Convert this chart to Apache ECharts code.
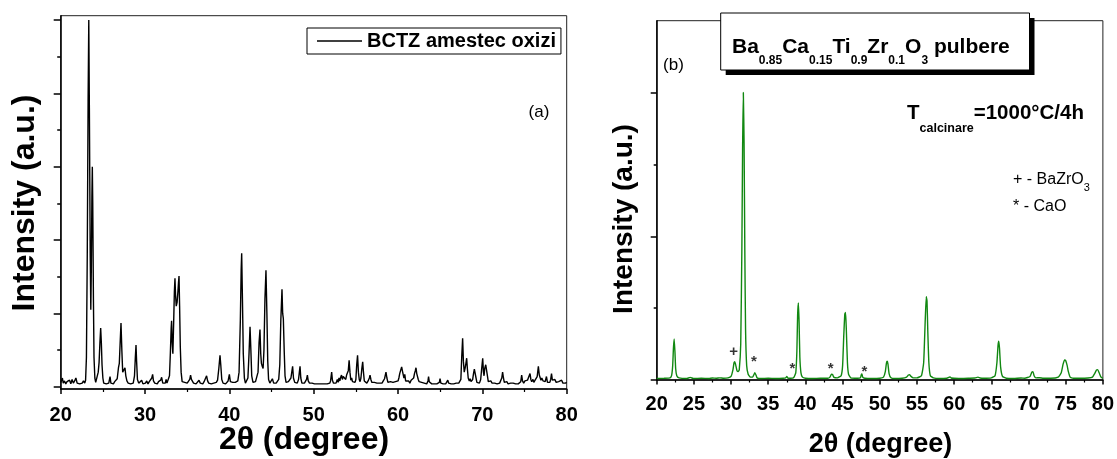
<!DOCTYPE html>
<html>
<head>
<meta charset="utf-8">
<script src="https://cdn.jsdelivr.net/npm/echarts@6/dist/echarts.min.js"></script>
<style>html,body{margin:0;padding:0;background:#fff}#c{width:1117px;height:459px}</style>
</head>
<body>
<div id="c"></div>
<script>
// ---- Data ----
// Panel (a): BCTZ oxide mixture, [2theta (deg), intensity (a.u.)]
const patternA = [[20.0,0.06],[20.1,0.04],[20.2,0.12],[20.3,0.05],[20.45,0.08],[20.6,0.04],[20.75,0.07],[20.9,0.05],[21.05,0.09],[21.2,0.04],[21.35,0.1],[21.5,0.05],[21.65,0.08],[21.8,0.12],[21.95,0.05],[22.1,0.07],[22.25,0.04],[22.4,0.06],[22.55,0.05],[22.7,0.08],[22.85,0.05],[22.95,0.09],[23.05,0.4],[23.15,1.8],[23.25,3.9],[23.33,5.0],[23.4,3.8],[23.5,1.8],[23.57,1.05],[23.63,1.6],[23.7,2.6],[23.75,3.0],[23.8,2.5],[23.88,1.2],[23.95,0.4],[24.05,0.12],[24.15,0.06],[24.3,0.08],[24.45,0.2],[24.55,0.33],[24.65,0.6],[24.74,0.8],[24.82,0.6],[24.9,0.3],[25.0,0.12],[25.1,0.05],[25.25,0.07],[25.4,0.04],[25.55,0.06],[25.7,0.05],[25.85,0.14],[25.95,0.05],[26.1,0.06],[26.25,0.04],[26.4,0.07],[26.55,0.05],[26.7,0.11],[26.85,0.26],[26.95,0.32],[27.05,0.6],[27.15,0.87],[27.25,0.5],[27.35,0.2],[27.5,0.18],[27.62,0.26],[27.72,0.15],[27.85,0.08],[28.0,0.05],[28.15,0.07],[28.3,0.04],[28.45,0.06],[28.6,0.05],[28.75,0.15],[28.85,0.4],[28.93,0.57],[29.0,0.35],[29.1,0.1],[29.25,0.05],[29.4,0.06],[29.6,0.09],[29.75,0.04],[29.9,0.06],[30.05,0.05],[30.2,0.08],[30.35,0.04],[30.5,0.07],[30.65,0.05],[30.8,0.12],[30.9,0.17],[31.0,0.08],[31.15,0.05],[31.3,0.06],[31.45,0.04],[31.6,0.07],[31.75,0.05],[31.85,0.09],[31.97,0.13],[32.1,0.05],[32.25,0.07],[32.4,0.05],[32.5,0.1],[32.6,0.05],[32.75,0.06],[32.9,0.15],[33.0,0.45],[33.1,0.8],[33.15,0.9],[33.22,0.6],[33.3,0.45],[33.4,0.9],[33.48,1.3],[33.55,1.48],[33.62,1.25],[33.7,1.1],[33.8,1.15],[33.9,1.3],[33.97,1.42],[34.03,1.51],[34.1,1.1],[34.18,0.55],[34.28,0.2],[34.4,0.07],[34.55,0.05],[34.7,0.06],[34.85,0.04],[35.0,0.05],[35.15,0.06],[35.3,0.1],[35.4,0.16],[35.5,0.1],[35.65,0.12],[35.75,0.05],[35.9,0.06],[36.05,0.04],[36.2,0.06],[36.4,0.09],[36.55,0.05],[36.7,0.06],[36.85,0.04],[37.0,0.07],[37.15,0.08],[37.3,0.15],[37.42,0.08],[37.55,0.05],[37.7,0.07],[37.85,0.04],[38.0,0.06],[38.15,0.05],[38.3,0.07],[38.45,0.06],[38.6,0.09],[38.75,0.25],[38.89,0.43],[38.98,0.3],[39.1,0.1],[39.25,0.05],[39.4,0.06],[39.55,0.04],[39.7,0.06],[39.85,0.08],[40.0,0.17],[40.12,0.07],[40.25,0.05],[40.4,0.06],[40.55,0.04],[40.7,0.06],[40.85,0.05],[41.0,0.08],[41.15,0.2],[41.3,0.9],[41.4,1.6],[41.46,1.82],[41.55,1.2],[41.65,0.45],[41.78,0.12],[41.9,0.05],[42.05,0.07],[42.2,0.12],[42.33,0.45],[42.45,0.82],[42.55,0.5],[42.65,0.15],[42.8,0.06],[42.95,0.05],[43.1,0.07],[43.25,0.06],[43.4,0.2],[43.52,0.6],[43.63,0.78],[43.72,0.45],[43.8,0.32],[43.9,0.28],[44.0,0.25],[44.1,0.5],[44.22,1.2],[44.34,1.59],[44.45,1.0],[44.55,0.35],[44.65,0.1],[44.8,0.05],[44.95,0.06],[45.1,0.11],[45.25,0.05],[45.4,0.07],[45.55,0.05],[45.7,0.06],[45.85,0.1],[45.98,0.3],[46.1,0.9],[46.24,1.33],[46.32,1.0],[46.4,0.93],[46.5,0.5],[46.6,0.15],[46.72,0.06],[46.85,0.05],[47.0,0.07],[47.15,0.06],[47.3,0.12],[47.4,0.2],[47.5,0.28],[47.6,0.12],[47.75,0.06],[47.9,0.08],[48.05,0.05],[48.2,0.1],[48.3,0.2],[48.38,0.28],[48.47,0.12],[48.6,0.05],[48.75,0.07],[48.9,0.05],[49.05,0.06],[49.15,0.1],[49.25,0.16],[49.35,0.08],[49.5,0.05],[49.65,0.04],[49.8,0.05],[49.95,0.03],[50.1,0.04],[50.25,0.03],[50.4,0.04],[50.55,0.03],[50.7,0.04],[50.85,0.05],[51.0,0.04],[51.15,0.06],[51.3,0.04],[51.45,0.05],[51.6,0.04],[51.75,0.06],[51.9,0.05],[52.0,0.08],[52.13,0.2],[52.22,0.09],[52.35,0.05],[52.5,0.07],[52.65,0.05],[52.8,0.1],[52.9,0.06],[53.0,0.12],[53.1,0.08],[53.2,0.13],[53.3,0.16],[53.4,0.1],[53.5,0.14],[53.6,0.12],[53.7,0.15],[53.8,0.1],[53.9,0.16],[54.0,0.18],[54.1,0.22],[54.2,0.36],[54.3,0.2],[54.4,0.09],[54.5,0.12],[54.6,0.07],[54.75,0.09],[54.9,0.06],[55.0,0.1],[55.1,0.3],[55.2,0.43],[55.3,0.2],[55.4,0.1],[55.5,0.07],[55.6,0.12],[55.7,0.24],[55.81,0.34],[55.9,0.2],[56.0,0.08],[56.15,0.06],[56.3,0.05],[56.45,0.08],[56.6,0.12],[56.68,0.16],[56.78,0.1],[56.9,0.06],[57.05,0.05],[57.2,0.06],[57.35,0.04],[57.5,0.05],[57.65,0.07],[57.8,0.05],[57.95,0.06],[58.1,0.05],[58.25,0.08],[58.4,0.11],[58.57,0.2],[58.68,0.12],[58.8,0.06],[58.95,0.05],[59.1,0.07],[59.25,0.05],[59.4,0.06],[59.55,0.05],[59.7,0.07],[59.85,0.05],[60.0,0.08],[60.1,0.12],[60.2,0.18],[60.3,0.22],[60.43,0.27],[60.55,0.2],[60.62,0.22],[60.7,0.12],[60.8,0.17],[60.9,0.08],[61.0,0.1],[61.1,0.06],[61.25,0.08],[61.4,0.05],[61.55,0.09],[61.7,0.07],[61.85,0.12],[61.95,0.18],[62.05,0.22],[62.13,0.26],[62.22,0.18],[62.3,0.2],[62.4,0.1],[62.5,0.07],[62.65,0.05],[62.8,0.06],[62.95,0.04],[63.1,0.05],[63.25,0.06],[63.4,0.04],[63.55,0.08],[63.62,0.14],[63.7,0.07],[63.85,0.05],[64.0,0.04],[64.15,0.05],[64.3,0.04],[64.45,0.05],[64.6,0.04],[64.75,0.05],[64.9,0.06],[64.98,0.11],[65.08,0.05],[65.2,0.06],[65.35,0.04],[65.5,0.05],[65.65,0.04],[65.8,0.06],[65.9,0.09],[66.0,0.05],[66.15,0.06],[66.3,0.04],[66.45,0.05],[66.6,0.04],[66.75,0.06],[66.9,0.05],[67.05,0.06],[67.2,0.05],[67.35,0.07],[67.45,0.1],[67.55,0.4],[67.66,0.66],[67.75,0.35],[67.85,0.2],[67.95,0.25],[68.05,0.32],[68.14,0.39],[68.22,0.25],[68.32,0.12],[68.45,0.08],[68.55,0.11],[68.65,0.07],[68.75,0.06],[68.85,0.1],[68.95,0.18],[69.05,0.24],[69.15,0.25],[69.25,0.12],[69.35,0.06],[69.5,0.08],[69.65,0.05],[69.8,0.1],[69.92,0.25],[70.04,0.39],[70.13,0.2],[70.2,0.15],[70.28,0.25],[70.4,0.3],[70.5,0.3],[70.6,0.15],[70.7,0.07],[70.85,0.06],[71.0,0.08],[71.15,0.05],[71.3,0.07],[71.45,0.05],[71.6,0.06],[71.75,0.04],[71.9,0.06],[72.05,0.05],[72.2,0.07],[72.3,0.12],[72.4,0.2],[72.5,0.12],[72.6,0.06],[72.75,0.05],[72.9,0.07],[73.05,0.04],[73.2,0.06],[73.35,0.05],[73.5,0.04],[73.65,0.05],[73.8,0.07],[73.95,0.04],[74.1,0.06],[74.25,0.04],[74.4,0.05],[74.55,0.07],[74.66,0.16],[74.76,0.08],[74.9,0.05],[75.05,0.08],[75.2,0.06],[75.35,0.09],[75.5,0.07],[75.65,0.18],[75.75,0.1],[75.85,0.07],[76.0,0.1],[76.1,0.06],[76.25,0.09],[76.35,0.08],[76.5,0.14],[76.64,0.28],[76.75,0.16],[76.85,0.14],[76.95,0.09],[77.05,0.12],[77.2,0.08],[77.3,0.1],[77.45,0.07],[77.6,0.14],[77.72,0.06],[77.85,0.08],[78.0,0.06],[78.1,0.1],[78.2,0.18],[78.3,0.09],[78.45,0.07],[78.6,0.1],[78.75,0.06],[78.9,0.05],[79.05,0.07],[79.2,0.05],[79.4,0.09],[79.55,0.05],[79.7,0.07],[79.85,0.05],[80.0,0.06]];

// Panel (b): Ba0.85Ca0.15Ti0.9Zr0.1O3 powder, [2theta (deg), intensity (a.u.)]
const patternB = [[20,0.01],[21,0.012],[21.8,0.015],[22.0,0.03],[22.15,0.1],[22.25,0.22],[22.35,0.285],[22.45,0.2],[22.55,0.08],[22.7,0.03],[23.0,0.015],[24.0,0.01],[24.5,0.018],[25,0.01],[26,0.012],[27,0.01],[27.5,0.014],[28,0.012],[28.5,0.015],[29,0.012],[29.6,0.015],[30.0,0.025],[30.25,0.07],[30.4,0.12],[30.5,0.128],[30.6,0.11],[30.8,0.065],[30.95,0.058],[31.1,0.07],[31.3,0.25],[31.45,0.9],[31.55,1.6],[31.65,2.0],[31.75,1.65],[31.85,0.9],[31.95,0.35],[32.1,0.1],[32.3,0.04],[32.6,0.02],[32.9,0.02],[33.05,0.035],[33.2,0.05],[33.35,0.035],[33.5,0.015],[34,0.01],[35,0.012],[36,0.01],[37.0,0.012],[37.35,0.015],[37.5,0.024],[37.65,0.013],[38.0,0.012],[38.4,0.015],[38.7,0.05],[38.85,0.2],[38.95,0.45],[39.05,0.536],[39.15,0.4],[39.25,0.16],[39.4,0.05],[39.6,0.02],[40,0.012],[41,0.01],[42,0.012],[43,0.012],[43.3,0.02],[43.5,0.04],[43.65,0.038],[43.8,0.02],[44.3,0.015],[44.8,0.03],[45.0,0.1],[45.15,0.3],[45.3,0.46],[45.4,0.47],[45.5,0.35],[45.65,0.12],[45.8,0.04],[46.1,0.015],[47,0.012],[47.4,0.015],[47.5,0.035],[47.6,0.042],[47.7,0.02],[48,0.012],[49,0.01],[50,0.012],[50.5,0.02],[50.75,0.06],[50.9,0.12],[51.0,0.13],[51.1,0.11],[51.25,0.045],[51.5,0.015],[52,0.01],[53,0.012],[53.6,0.02],[53.85,0.035],[54.0,0.037],[54.2,0.025],[54.5,0.015],[55,0.015],[55.6,0.03],[55.9,0.12],[56.1,0.4],[56.25,0.58],[56.35,0.55],[56.45,0.35],[56.6,0.12],[56.8,0.03],[57.2,0.015],[58,0.01],[59,0.012],[59.3,0.018],[59.45,0.022],[59.6,0.014],[60,0.012],[61,0.01],[62,0.012],[62.8,0.014],[63.2,0.02],[63.5,0.014],[64,0.012],[65,0.015],[65.5,0.03],[65.75,0.12],[65.9,0.24],[66.0,0.27],[66.1,0.22],[66.25,0.09],[66.5,0.025],[67,0.012],[68,0.01],[69,0.014],[69.5,0.012],[70.2,0.025],[70.45,0.055],[70.6,0.058],[70.75,0.03],[71.0,0.015],[71.5,0.016],[72,0.012],[73,0.012],[74,0.02],[74.4,0.05],[74.65,0.11],[74.85,0.14],[75.0,0.135],[75.2,0.1],[75.35,0.06],[75.6,0.02],[76,0.012],[77,0.012],[78,0.014],[78.6,0.02],[78.9,0.045],[79.15,0.07],[79.3,0.072],[79.5,0.05],[79.75,0.02],[80,0.012]];

// Phase markers above panel (b) peaks: [2theta, intensity, symbol]
const phaseMarks = [[30.33,0.193,'+'],[33.07,0.127,'*'],[38.26,0.08,'*'],[43.4,0.08,'*'],[47.94,0.057,'*']];

// Tick values
const ticksAX = [20,30,40,50,60,70,80];
const ticksBX = [20,25,30,35,40,45,50,55,60,65,70,75,80];
const ticksAYMajor = [0,1,2,3,4,5];
const ticksAYMinor = [0.5,1.5,2.5,3.5,4.5];
const ticksBYMajor = [0,1,2];
const ticksBYMinor = [0.5,1.5];

const seriesNameA = 'BCTZ amestec oxizi';

// ---- Chart ----
const F = 'Liberation Sans, Arial, Helvetica, sans-serif';
const chart = echarts.init(document.getElementById('c'), null, {renderer: 'canvas'});

function xAxisCfg(grid, ticks, interval, margin, majorLen, minorLen) {
  return {
    gridIndex: grid, type: 'value', min: ticks[0], max: ticks[ticks.length - 1], interval: interval,
    axisLine: {onZero: false, lineStyle: {color: '#000', width: 1.5}},
    axisTick: {show: true, inside: false, length: majorLen, lineStyle: {color: '#000', width: 1.5}},
    minorTick: {show: true, splitNumber: 2, length: minorLen, lineStyle: {color: '#000', width: 1.2}},
    axisLabel: {margin: margin, fontSize: 20, fontWeight: 'bold', color: '#000', fontFamily: F},
    splitLine: {show: false}, minorSplitLine: {show: false}
  };
}
function yAxisCfg(grid, min, max, ticks, len, showLine) {
  return {
    gridIndex: grid, type: 'value', min: min, max: max, position: 'left', offset: 0,
    axisLine: {show: showLine, onZero: false, lineStyle: {color: '#000', width: 1.5}},
    axisTick: {show: true, inside: false, length: len, customValues: ticks, lineStyle: {color: '#000', width: 1.5}},
    axisLabel: {show: false, customValues: ticks},
    splitLine: {show: false}
  };
}

const option = {
  animation: false,
  backgroundColor: '#fff',
  grid: [
    {left: 60.7, top: 15.7, width: 506, height: 373.3, show: true, borderColor: '#222', borderWidth: 1, backgroundColor: 'transparent'},
    {left: 656.7, top: 20.7, width: 448.8, height: 359.3, show: true, borderColor: '#222', borderWidth: 1, backgroundColor: 'transparent'}
  ],
  legend: {
    data: [seriesNameA], left: 307, top: 28, padding: [3, 5, 3, 10],
    borderColor: '#000', borderWidth: 1, borderRadius: 0, backgroundColor: '#fff',
    icon: 'rect', itemWidth: 45, itemHeight: 1.6,
    textStyle: {fontSize: 20, fontWeight: 'bold', color: '#000', fontFamily: F}
  },
  xAxis: [
    xAxisCfg(0, ticksAX, 10, 16, 5, 3),
    xAxisCfg(1, ticksBX, 5, 14, 4.5, 2.5)
  ],
  yAxis: [
    yAxisCfg(0, -0.03, 5.06, ticksAYMajor, 7, true),
    yAxisCfg(0, -0.03, 5.06, ticksAYMinor, 3.5, false),
    yAxisCfg(1, 0, 2.5, ticksBYMajor, 6, true),
    yAxisCfg(1, 0, 2.5, ticksBYMinor, 3, false)
  ],
  series: [
    {name: seriesNameA, type: 'line', xAxisIndex: 0, yAxisIndex: 0, data: patternA,
     symbol: 'none', showSymbol: false, lineStyle: {color: '#000', width: 1.4}, itemStyle: {color: '#000'}},
    {name: 'BCTZ pulbere', type: 'line', xAxisIndex: 1, yAxisIndex: 2, data: patternB,
     symbol: 'none', showSymbol: false, smooth: 0.15, lineStyle: {color: '#118811', width: 1.4}, itemStyle: {color: '#118811'}},
    {name: 'marks', type: 'scatter', xAxisIndex: 1, yAxisIndex: 2, symbolSize: 0, silent: true,
     data: phaseMarks.map(m => ({value: [m[0], m[1]], sym: m[2]})),
     label: {show: true, position: 'inside', color: '#000', fontFamily: F, fontWeight: 'bold',
       fontSize: 15, formatter: p => p.data.sym}}
  ],
  graphic: [
    // axis titles
    {type: 'text', x: 25, y: 203, rotation: Math.PI / 2, z: 10,
     style: {text: 'Intensity (a.u.)', fontSize: 32, fontWeight: 'bold', fontFamily: F, fill: '#000', align: 'center', verticalAlign: 'middle'}},
    {type: 'text', x: 304, y: 440, z: 10,
     style: {text: '2θ (degree)', fontSize: 32, fontWeight: 'bold', fontFamily: F, fill: '#000', align: 'center', verticalAlign: 'middle'}},
    {type: 'text', x: 624.5, y: 219, rotation: Math.PI / 2, z: 10,
     style: {text: 'Intensity (a.u.)', fontSize: 28, fontWeight: 'bold', fontFamily: F, fill: '#000', align: 'center', verticalAlign: 'middle'}},
    {type: 'text', x: 880.5, y: 445, z: 10,
     style: {text: '2θ (degree)', fontSize: 27, fontWeight: 'bold', fontFamily: F, fill: '#000', align: 'center', verticalAlign: 'middle'}},
    // panel letters
    {type: 'text', x: 539, y: 112, z: 10,
     style: {text: '(a)', fontSize: 17, fontFamily: F, fill: '#000', align: 'center', verticalAlign: 'middle'}},
    {type: 'text', x: 673.5, y: 65, z: 10,
     style: {text: '(b)', fontSize: 17, fontFamily: F, fill: '#000', align: 'center', verticalAlign: 'middle'}},
    // title box with shadow
    {type: 'rect', z: 20, shape: {x: 725.7, y: 18, width: 308.8, height: 57}, style: {fill: '#000'}},
    {type: 'rect', z: 21, shape: {x: 720.7, y: 13, width: 308.8, height: 57}, style: {fill: '#fff', stroke: '#000', lineWidth: 1}},
    {type: 'text', x: 732, y: 36.3, z: 22,
     style: {
       text: '{n|Ba}{s|0.85}{n|Ca}{s|0.15}{n|Ti}{s|0.9}{n|Zr}{s|0.1}{n|O}{s|3}{n| pulbere}',
       align: 'left', verticalAlign: 'top', fill: '#000',
       rich: {
         n: {fontSize: 21, fontWeight: 'bold', fontFamily: F, verticalAlign: 'top', fill: '#000'},
         s: {fontSize: 12, fontWeight: 'bold', fontFamily: F, verticalAlign: 'top', padding: [18.5, 0, 0, 0], fill: '#000'}
       }
     }},
    {type: 'text', x: 907, y: 103, z: 22,
     style: {
       text: '{n|T}{s|calcinare}{n|=1000°C/4h}',
       align: 'left', verticalAlign: 'top', fill: '#000',
       rich: {
         n: {fontSize: 20.5, fontWeight: 'bold', fontFamily: F, verticalAlign: 'top', fill: '#000'},
         s: {fontSize: 12.5, fontWeight: 'bold', fontFamily: F, verticalAlign: 'top', padding: [19.3, 0, 0, 0], fill: '#000'}
       }
     }},
    {type: 'text', x: 1013, y: 171.2, z: 22,
     style: {
       text: '{n|+ - BaZrO}{s|3}',
       align: 'left', verticalAlign: 'top', fill: '#000',
       rich: {
         n: {fontSize: 16, fontFamily: F, verticalAlign: 'top', fill: '#000'},
         s: {fontSize: 11, fontFamily: F, verticalAlign: 'top', padding: [11.7, 0, 0, 0], fill: '#000'}
       }
     }},
    {type: 'text', x: 1013, y: 198.2, z: 22,
     style: {text: '* - CaO', fontSize: 16, fontFamily: F, fill: '#000', align: 'left', verticalAlign: 'top'}}
  ]
};
chart.setOption(option);
</script>
</body>
</html>
